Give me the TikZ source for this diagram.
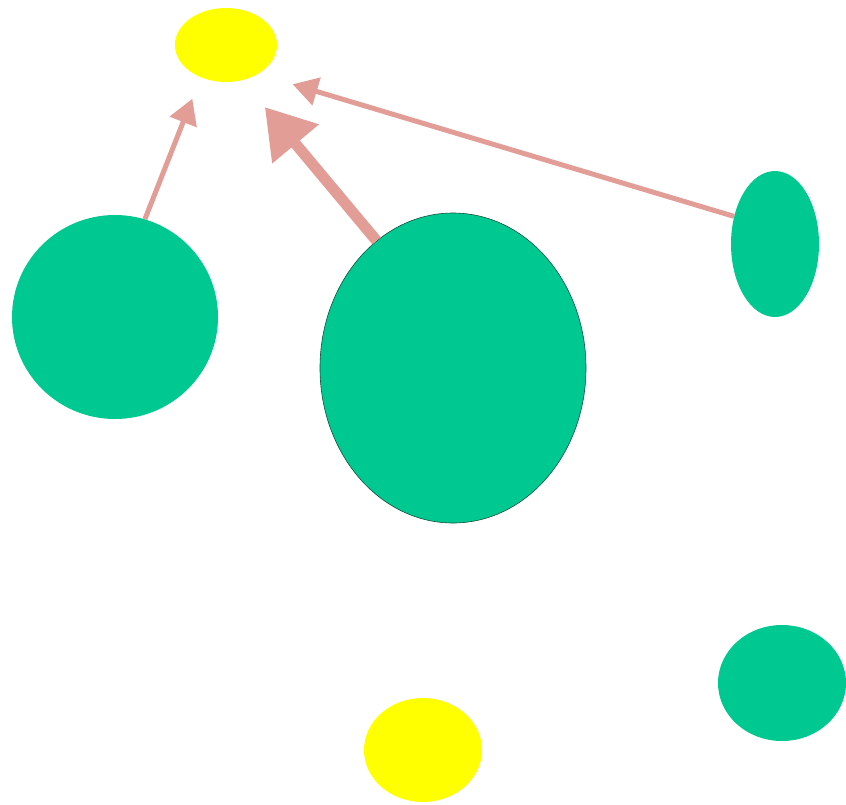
\documentclass[tikz,border=0pt]{standalone}
\usetikzlibrary{arrows.meta,shapes.geometric}
\definecolor{nodegreen}{RGB}{0,200,145}
\definecolor{nodeyellow}{RGB}{255,255,0}
\definecolor{edgepink}{RGB}{226,158,150}
\definecolor{rimgreen}{RGB}{20,80,60}
\begin{document}
\begin{tikzpicture}[x=1pt,y=-1pt,
  greennode/.style={ellipse,fill=nodegreen,draw=none,inner sep=0pt},
  yellownode/.style={ellipse,fill=nodeyellow,draw=none,inner sep=0pt},
  thinedge/.style={draw=edgepink,line width=5pt,-{Triangle[length=25pt,width=28pt]},fill=edgepink},
  thickedge/.style={draw=edgepink,line width=11pt,-{Triangle[length=48pt,width=58pt]},fill=edgepink}]
\useasboundingbox (0,0) rectangle (846,804);
\node[yellownode,minimum width=102pt,minimum height=74pt] (Y1) at (226,45) {};
\node[greennode,minimum width=206pt,minimum height=204pt] (G1) at (115,317) {};
\node[greennode,draw=rimgreen,line width=0.6pt,minimum width=266pt,minimum height=310pt] (G2) at (453,368) {};
\node[greennode,minimum width=88pt,minimum height=146pt] (G3) at (775,244) {};
\node[greennode,minimum width=128pt,minimum height=116pt] (G4) at (782,683) {};
\node[yellownode,minimum width=118pt,minimum height=104pt] (Y2) at (423,750) {};
\draw[thinedge,shorten >=23pt] (G1.73) -- (Y1.232);
\draw[thickedge,shorten >=35pt] (G2.121) -- (Y1.295);
\draw[thinedge,shorten >=36pt] (G3.146) -- (Y1.318);
\end{tikzpicture}
\end{document}
